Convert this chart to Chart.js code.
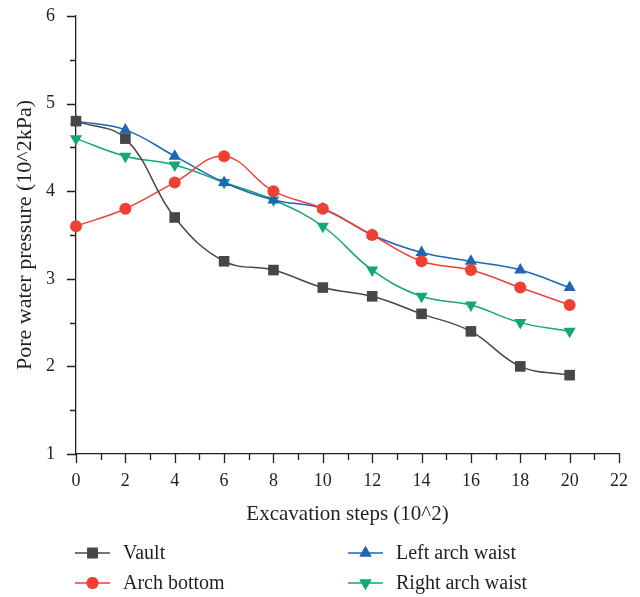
<!DOCTYPE html>
<html>
<head>
<meta charset="utf-8">
<script src="https://cdn.jsdelivr.net/npm/chart.js@4"></script>
<style>
  html, body { margin: 0; padding: 0; background: #fff; }
  #wrap { width: 640px; height: 597px; }
</style>
</head>
<body>
<div id="wrap"><canvas id="chart" width="640" height="597"></canvas></div>
<script>
// --- data ---
const steps = [0, 2, 4, 6, 8, 10, 12, 14, 16, 18, 20];
const vault = [4.8, 4.6, 3.7, 3.2, 3.1, 2.9, 2.8, 2.6, 2.4, 2.0, 1.9];
const archBottom = [3.6, 3.8, 4.1, 4.4, 4.0, 3.8, 3.5, 3.2, 3.1, 2.9, 2.7];
const leftWaist = [4.8, 4.7, 4.4, 4.1, 3.9, 3.8, 3.5, 3.3, 3.2, 3.1, 2.9];
const rightWaist = [4.6, 4.4, 4.3, 4.1, 3.9, 3.6, 3.1, 2.8, 2.7, 2.5, 2.4];

const FONT = "'Liberation Serif', 'DejaVu Serif', serif";
const INK = '#231f20';

const SERIES = [
    { label: 'Vault', data: vault, color: '#45484b', style: 'rect', radius: 7.5, rot: 0 },
    { label: 'Arch bottom', data: archBottom, color: '#ee4035', style: 'circle', radius: 6, rot: 0 },
    { label: 'Left arch waist', data: leftWaist, color: '#1f65b4', style: 'triangle', radius: 7, rot: 0 },
    { label: 'Right arch waist', data: rightWaist, color: '#12a86e', style: 'triangle', radius: 7, rot: 180 },
];

// tick marks (major + minor), drawn outside the axes
const tickPlugin = {
    id: 'ticks',
    afterDraw(chart) {
        const { ctx, chartArea } = chart;
        const x = chart.scales.x, y = chart.scales.y;
        ctx.save();
        ctx.strokeStyle = INK;
        ctx.lineWidth = 1.3;
        ctx.beginPath();
        for (let v = 0; v <= 22; v += 1) {
            const px = Math.round(x.getPixelForValue(v)) + 0.5;
            const len = v % 2 === 0 ? 9 : 6;
            ctx.moveTo(px, chartArea.bottom);
            ctx.lineTo(px, chartArea.bottom + len);
        }
        for (let v = 1; v <= 6; v += 0.5) {
            const py = Math.round(y.getPixelForValue(v)) + 0.5;
            const len = Number.isInteger(v) ? 9 : 6;
            ctx.moveTo(chartArea.left, py);
            ctx.lineTo(chartArea.left - len, py);
        }
        ctx.stroke();
        ctx.restore();
    }
};

// two-column legend under the x axis
const legendPlugin = {
    id: 'gridLegend',
    afterDraw(chart) {
        const { ctx } = chart;
        const cols = [75, 348];
        const rows = [553, 583];
        ctx.save();
        ctx.font = `20px ${FONT}`;
        ctx.textBaseline = 'middle';
        SERIES.forEach((s, i) => {
            const lx = cols[Math.floor(i / 2)];
            const ly = rows[i % 2];
            ctx.strokeStyle = s.color;
            ctx.lineWidth = 1.5;
            ctx.beginPath();
            ctx.moveTo(lx, ly);
            ctx.lineTo(lx + 35, ly);
            ctx.stroke();
            ctx.fillStyle = s.color;
            Chart.helpers.drawPoint(ctx, {
                pointStyle: s.style, radius: s.radius, rotation: s.rot, borderWidth: 0
            }, lx + 17.5, ly);
            ctx.fill();
            ctx.fillStyle = INK;
            ctx.fillText(s.label, lx + 48, ly + 1);
        });
        ctx.restore();
    }
};

new Chart(document.getElementById('chart'), {
    type: 'line',
    plugins: [tickPlugin, legendPlugin],
    data: {
        datasets: SERIES.map(s => ({
            label: s.label,
            data: steps.map((x, i) => ({ x, y: s.data[i] })),
            borderColor: s.color,
            backgroundColor: s.color,
            borderWidth: 1.5,
            pointStyle: s.style,
            pointRadius: s.radius,
            pointRotation: s.rot,
            pointBorderWidth: 0,
            tension: 0.4,
            clip: false,
        }))
    },
    options: {
        responsive: false,
        animation: false,
        layout: { padding: { left: 12, right: 21, top: 16, bottom: 70 } },
        scales: {
            x: {
                type: 'linear',
                min: 0, max: 22,
                grid: { display: false, drawTicks: false },
                border: { display: true, color: INK, width: 1.3 },
                afterFit(scale) {
                    scale.height = 73;
                    scale.paddingLeft = 0;
                    scale.paddingRight = 0;
                },
                ticks: {
                    stepSize: 2,
                    color: INK,
                    padding: 16,
                    font: { family: FONT, size: 18 },
                },
                title: {
                    display: true,
                    text: 'Excavation steps (10^2)',
                    color: INK,
                    font: { family: FONT, size: 21 },
                    padding: { top: 0, bottom: 0 },
                }
            },
            y: {
                min: 1, max: 6,
                grid: { display: false, drawTicks: false },
                border: { display: true, color: INK, width: 1.3 },
                afterFit(scale) {
                    scale.width = 64;
                    scale.paddingTop = 0;
                    scale.paddingBottom = 0;
                },
                ticks: {
                    stepSize: 1,
                    color: INK,
                    padding: 21,
                    font: { family: FONT, size: 18 },
                },
                title: {
                    display: true,
                    text: 'Pore water pressure (10^2kPa)',
                    color: INK,
                    font: { family: FONT, size: 22 },
                    padding: { top: 0, bottom: 0 },
                }
            }
        },
        plugins: {
            legend: { display: false },
            tooltip: { enabled: false },
        }
    }
});
</script>
</body>
</html>
